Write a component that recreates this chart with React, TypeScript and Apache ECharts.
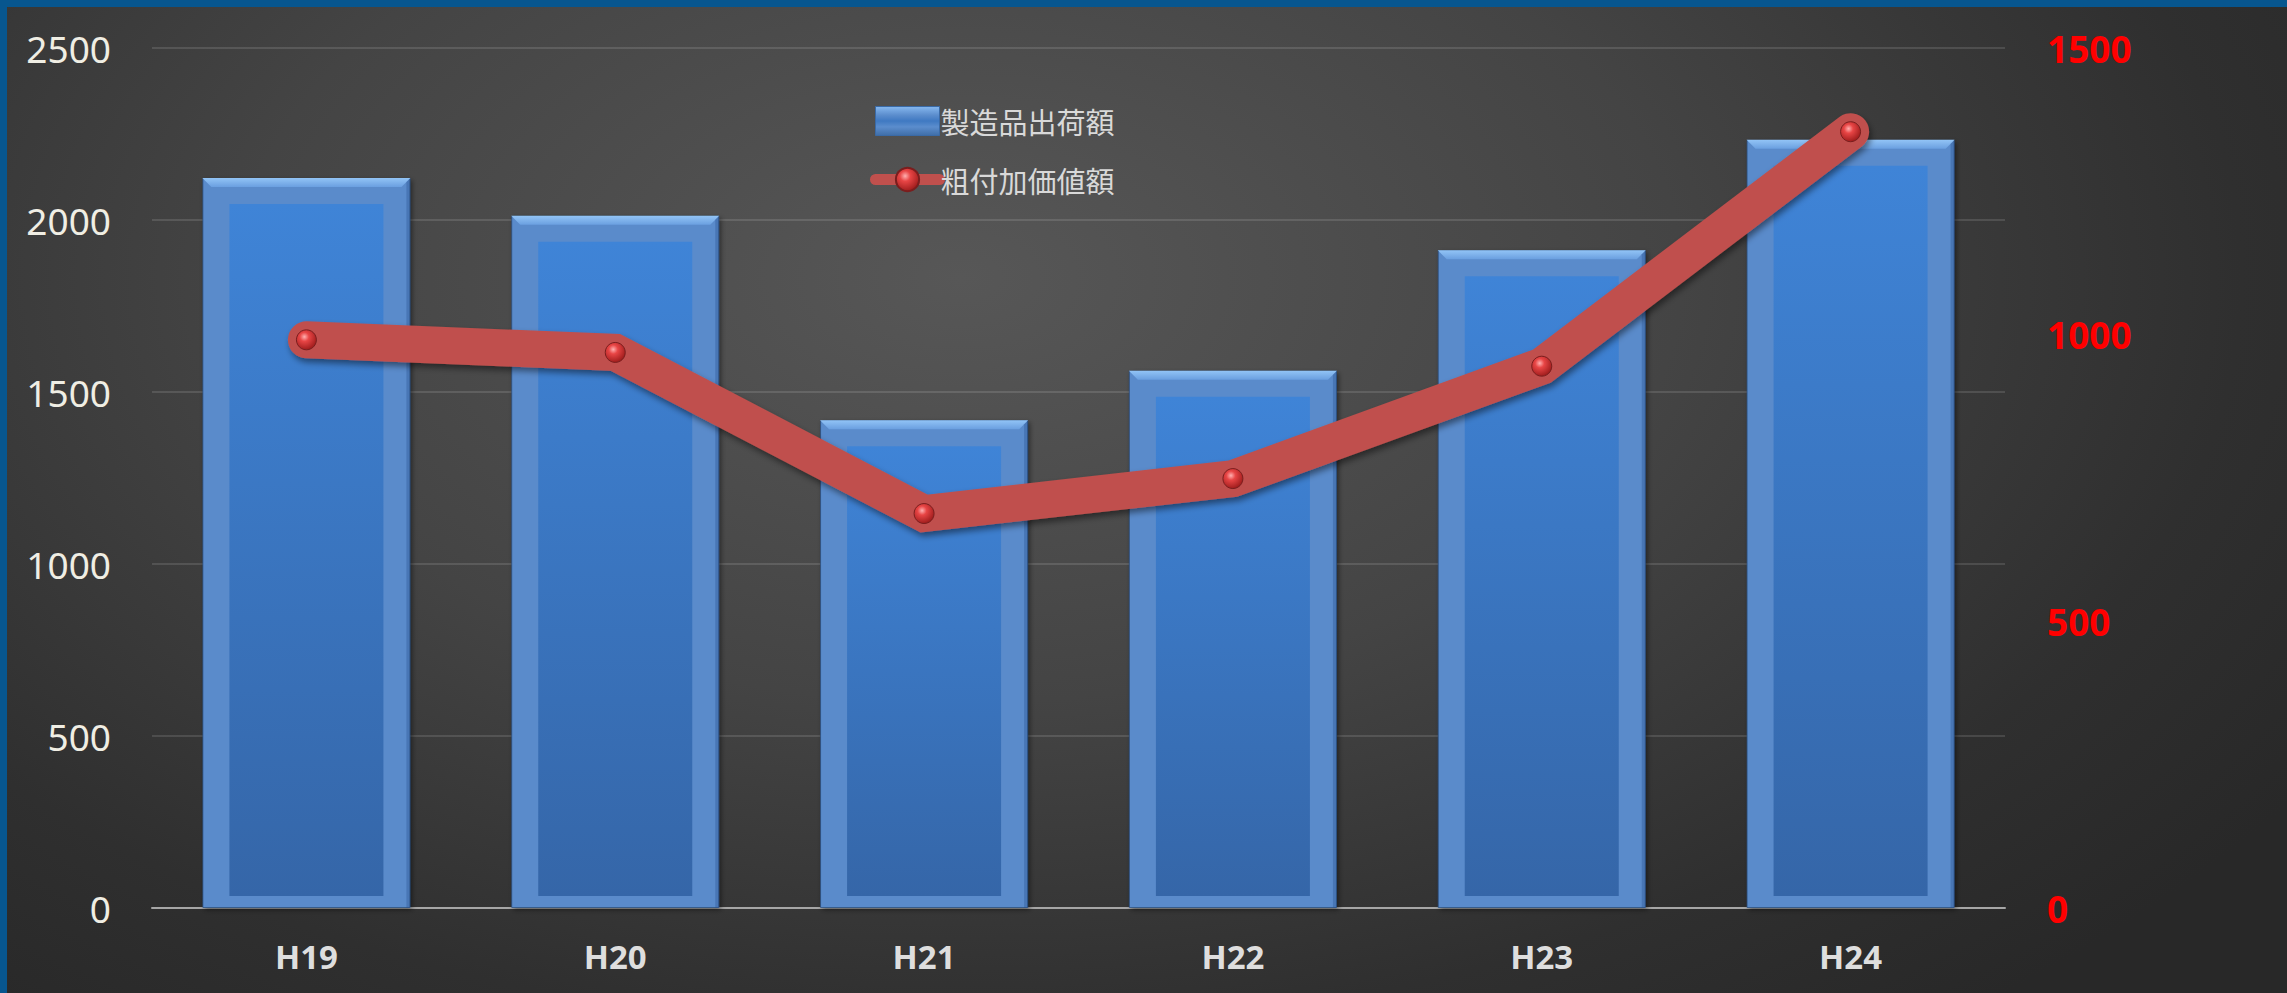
import React, { useEffect, useRef } from "react";
import * as echarts from "echarts";

const categories = ["H19", "H20", "H21", "H22", "H23", "H24"];
const shipmentValues = [2122, 2012, 1418, 1562, 1912, 2233];
const valueAddedValues = [991, 969, 688, 749, 945, 1354];
const seriesNames = ["製造品出荷額", "粗付加価値額"];
const leftAxisMax = 2500;
const rightAxisMax = 1500;
const axisInterval = 500;

const BAR_RATIO = 0.6736;

export default function App() {
  const ref = useRef<HTMLDivElement>(null);

  useEffect(() => {
    if (!ref.current) return;
    const chart = echarts.init(ref.current, undefined, { renderer: "svg" });

    const barData = shipmentValues.map((v, i) => [i, v]);
    const plain = (v: number) => String(v);

    const option: any = {
      animation: false,
      backgroundColor: "transparent",
      textStyle: { fontFamily: "Noto Sans" },
      grid: { left: 152, right: 282, top: 48, bottom: 85, containLabel: false },
      legend: {
        orient: "vertical",
        left: 870,
        top: 106,
        padding: 0,
        itemWidth: 64,
        itemHeight: 29,
        itemGap: 29,
        textStyle: {
          color: "#d9d9d9",
          fontSize: 29,
          lineHeight: 29,
          fontFamily: "Noto Sans CJK JP",
          padding: [0, 0, 0, -4],
        },
        data: [
          {
            name: seriesNames[0],
            icon: "rect",
            itemStyle: {
              color: new echarts.graphic.LinearGradient(0, 0, 0, 1, [
                { offset: 0, color: "#86b8ef" },
                { offset: 0.3, color: "#5b8dcd" },
                { offset: 0.5, color: "#3f79c2" },
                { offset: 0.7, color: "#5b8dcd" },
                { offset: 1, color: "#3f6ea8" },
              ]),
              borderColor: "#3a6aa6",
              borderWidth: 1,
            },
          },
          {
            name: seriesNames[1],
            lineStyle: { width: 11, color: "#c0504d", cap: "round" },
          },
        ],
      },
      xAxis: {
        type: "category",
        data: categories,
        axisTick: { show: false },
        axisLine: { lineStyle: { color: "#a6a6a6", width: 2 } },
        axisLabel: {
          color: "#dedede",
          fontSize: 33,
          fontWeight: "bold",
          fontFamily: "Noto Sans",
          margin: 32,
        },
      },
      yAxis: [
        {
          type: "value",
          min: 0,
          max: leftAxisMax,
          interval: axisInterval,
          axisLine: { show: false },
          axisTick: { show: false },
          splitLine: { lineStyle: { color: "rgba(255,255,255,0.12)", width: 2 } },
          axisLabel: {
            color: "#f0eee4",
            fontSize: 37,
            fontFamily: "Noto Sans",
            margin: 41,
            formatter: plain,
          },
        },
        {
          type: "value",
          min: 0,
          max: rightAxisMax,
          interval: axisInterval,
          position: "right",
          axisLine: { show: false },
          axisTick: { show: false },
          splitLine: { show: false },
          axisLabel: {
            color: "#ff0000",
            fontSize: 37,
            fontWeight: "bold",
            fontFamily: "Noto Sans",
            margin: 42,
            formatter: plain,
          },
        },
      ],
      series: [
        {
          name: seriesNames[0],
          type: "bar",
          data: shipmentValues,
          barWidth: (BAR_RATIO * 100).toFixed(2) + "%",
          z: 2,
          itemStyle: {
            color: "#5a8bcb",
            borderColor: "rgba(40,75,125,0.7)",
            borderWidth: 1,
            shadowColor: "rgba(0,0,0,0.45)",
            shadowBlur: 5,
            shadowOffsetX: 2,
            shadowOffsetY: 2,
          },
        },
        {
          type: "custom",
          data: barData,
          z: 3,
          silent: true,
          renderItem: (params: any, api: any) => {
            const idx = api.value(0);
            const v = api.value(1);
            const top = api.coord([idx, v]);
            const base = api.coord([idx, 0]);
            const bw = api.size([1, 0])[0] * BAR_RATIO;
            const x0 = top[0] - bw / 2;
            const y0 = top[1];
            const y1 = base[1];
            const bev = 9;
            return {
              type: "group",
              children: [
                {
                  type: "polygon",
                  shape: {
                    points: [
                      [x0, y0],
                      [x0 + bw, y0],
                      [x0 + bw - bev, y0 + bev],
                      [x0 + bev, y0 + bev],
                    ],
                  },
                  style: {
                    fill: new echarts.graphic.LinearGradient(0, 0, 0, 1, [
                      { offset: 0, color: "#92c4f6" },
                      { offset: 1, color: "#6a9fe0" },
                    ]),
                  },
                },
                {
                  type: "polygon",
                  shape: {
                    points: [
                      [x0 + bw, y0],
                      [x0 + bw, y1],
                      [x0 + bw - 4, y1],
                      [x0 + bw - 4, y0 + 4],
                    ],
                  },
                  style: { fill: "rgba(40,80,140,0.35)" },
                },
                {
                  type: "rect",
                  shape: {
                    x: x0 + 27,
                    y: y0 + 26,
                    width: bw - 54,
                    height: Math.max(0, y1 - 12 - (y0 + 26)),
                  },
                  style: {
                    fill: new echarts.graphic.LinearGradient(0, 0, 0, 1, [
                      { offset: 0, color: "#3f84d7" },
                      { offset: 1, color: "#3566a8" },
                    ]),
                  },
                },
              ],
            };
          },
        },
        {
          name: seriesNames[1],
          type: "line",
          yAxisIndex: 1,
          data: valueAddedValues,
          z: 5,
          symbol: "circle",
          symbolSize: 20,
          lineStyle: {
            color: "#c0504d",
            width: 37,
            cap: "round",
            join: "miter",
            shadowColor: "rgba(0,0,0,0.45)",
            shadowBlur: 6,
            shadowOffsetX: 2,
            shadowOffsetY: 4,
          },
          itemStyle: {
            color: new echarts.graphic.RadialGradient(0.4, 0.35, 0.65, [
              { offset: 0, color: "#ffb0b0" },
              { offset: 0.35, color: "#e84545" },
              { offset: 1, color: "#a01d1d" },
            ]),
            borderColor: "#7a1e1e",
            borderWidth: 1,
          },
        },
      ],
    };

    chart.setOption(option);
    return () => chart.dispose();
  }, []);

  return (
    <div
      style={{
        position: "absolute",
        left: 0,
        top: 0,
        width: 2287,
        height: 993,
        overflow: "hidden",
        background:
          "radial-gradient(ellipse 70% 95% at 42% 28%, #575757 0%, #444444 45%, #2f2f2f 80%, #282828 100%)",
      }}
    >
      <div style={{ position: "absolute", left: 0, top: 0, width: 2287, height: 7, background: "#07568f" }} />
      <div style={{ position: "absolute", left: 0, top: 0, width: 7, height: 993, background: "#07568f" }} />
      <div ref={ref} style={{ position: "absolute", left: 0, top: 0, width: 2287, height: 993 }} />
    </div>
  );
}
